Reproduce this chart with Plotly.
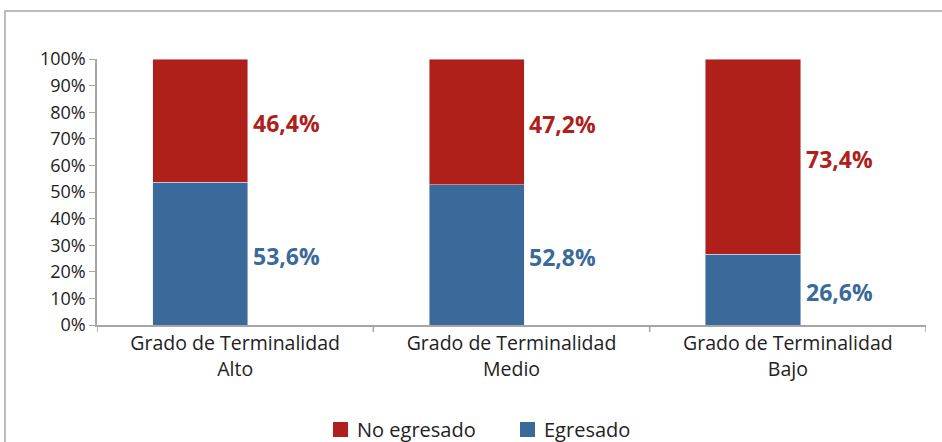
import plotly.graph_objects as go

categories = ["Grado de Terminalidad<br>Alto", "Grado de Terminalidad<br>Medio", "Grado de Terminalidad<br>Bajo"]
egresado = [53.6, 52.8, 26.6]
no_egresado = [46.4, 47.2, 73.4]
y_ticks = [0, 10, 20, 30, 40, 50, 60, 70, 80, 90, 100]

RED = "#B0201B"
BLUE = "#3A6A9A"
GREY = "#A6A6A6"
FONT = "Open Sans"

xs = list(range(len(categories)))
bar_w = 0.344

fig = go.Figure()
fig.add_trace(go.Bar(x=xs, y=egresado, name="Egresado", marker_color=BLUE, width=bar_w))
fig.add_trace(go.Bar(x=xs, y=no_egresado, name="No egresado", marker_color=RED, width=bar_w))

# value labels to the right of each segment
fmt = lambda v: f"{v:.1f}%".replace(".", ",")
value_notes = []
for i, e, n in zip(xs, egresado, no_egresado):
    for val, mid, col in [(e, e / 2, BLUE), (n, e + n / 2, RED)]:
        value_notes.append(dict(x=i + bar_w / 2, y=mid, xref="x", yref="y", text=fmt(val),
                                xanchor="left", yanchor="middle", xshift=3, yshift=-2,
                                showarrow=False,
                                font=dict(family=FONT, size=23, color=col, weight="bold")))

L, R, T, B = 97, 16, 59, 117
pw, ph = 942 - L - R, 442 - T - B
px = lambda x: (x - L) / pw          # page pixel -> paper x
py = lambda y: (442 - B - y) / ph    # page pixel -> paper y

# bars sit left of the category slot centre, as in the source
x_lo, x_hi = -0.374, 2.626
seps = [x_lo, 0.626, 1.626, x_hi]
label_pos = [i + 0.126 for i in xs]

# hand-made legend (square close to text, like the source)
legend_items = [("No egresado", RED, 333, 355), ("Egresado", BLUE, 520, 542)]
legend_shapes, legend_notes = [], []
for name, col, sx, tx in legend_items:
    legend_shapes.append(dict(type="rect", xref="paper", yref="paper",
                              x0=px(sx), x1=px(sx + 15), y0=py(437), y1=py(422),
                              fillcolor=col, line=dict(width=0)))
    legend_notes.append(dict(text=name, xref="paper", yref="paper", x=px(tx), y=py(429),
                             xanchor="left", yanchor="middle", showarrow=False,
                             font=dict(size=20, color="#222222")))

fig.update_layout(
    barmode="stack",
    width=942, height=442,
    margin=dict(l=L, r=R, t=T, b=B, autoexpand=False),
    paper_bgcolor="white", plot_bgcolor="white",
    font=dict(family=FONT, size=18, color="#222222"),
    showlegend=False,
    xaxis=dict(tickmode="array", tickvals=label_pos, ticktext=categories, range=[x_lo, x_hi],
               showline=True, linecolor=GREY, linewidth=1.5, ticks="", showgrid=False,
               tickfont=dict(size=19.5), automargin=False),
    yaxis=dict(range=[0, 100], tickmode="array", tickvals=y_ticks,
               ticktext=[f"{v}%" for v in y_ticks], showline=True,
               linecolor=GREY, linewidth=1.5, ticks="outside", ticklen=6,
               tickcolor=GREY, showgrid=False, zeroline=False, automargin=False),
    annotations=value_notes + legend_notes,
    shapes=[
        dict(type="rect", xref="paper", yref="paper",
             x0=px(5), x1=px(960), y0=py(460), y1=py(11),
             line=dict(color=GREY, width=1.5), fillcolor="rgba(0,0,0,0)", layer="below"),
    ] + [
        dict(type="line", xref="x", yref="paper", x0=b, x1=b, y0=0, y1=-7 / ph,
             line=dict(color=GREY, width=1.5))
        for b in seps
    ] + legend_shapes,
)

fig.write_html("out.html", config={"displayModeBar": False},
               post_script="document.body.style.margin='0';")
